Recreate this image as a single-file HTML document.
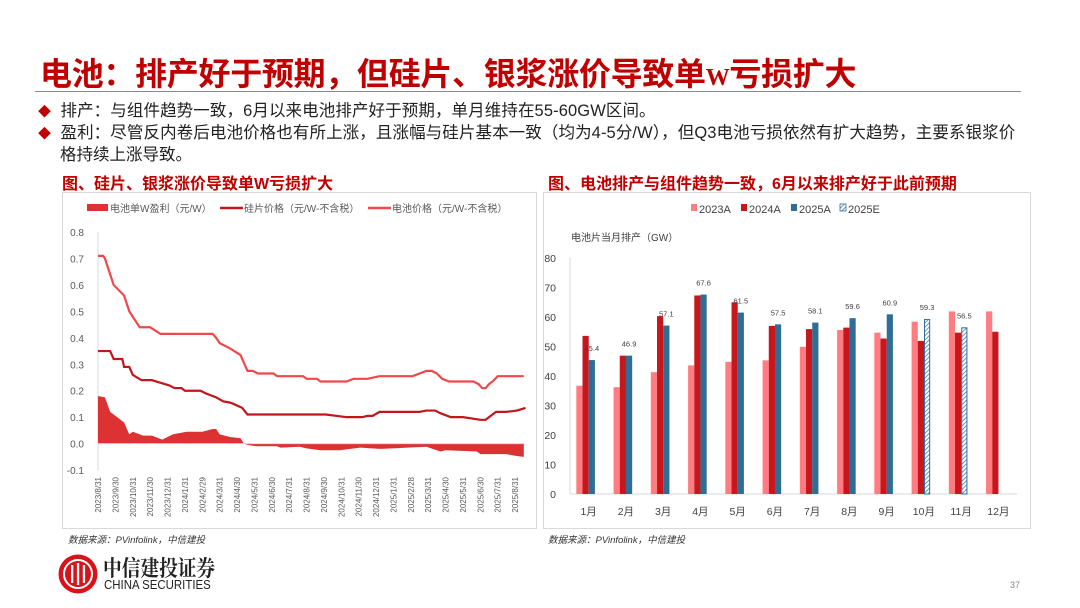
<!DOCTYPE html>
<html><head><meta charset="utf-8"><style>
body{margin:0;width:1080px;height:608px;background:#fff;position:relative;overflow:hidden;font-family:"Liberation Sans","Noto Sans CJK SC",sans-serif;}
.abs{position:absolute;white-space:nowrap;}
</style></head><body>
<div class="abs" style="left:40px;top:49px;font-size:32px;font-weight:bold;color:#c00000;letter-spacing:-0.3px;">电池：排产好于预期，但硅片、银浆涨价导致单<span style="font-family:'Liberation Serif',serif;font-size:24px;">W</span>亏损扩大</div>
<div class="abs" style="left:35px;top:91px;width:986px;height:1px;background:#8a8a8a;"></div>
<div class="abs" style="left:38px;top:97px;font-size:16.5px;color:#222;letter-spacing:0.1px;"><span style="color:#c00000;font-size:13px;">◆</span>&nbsp; 排产：与组件趋势一致，6月以来电池排产好于预期，单月维持在55-60GW区间。</div>
<div class="abs" style="left:38px;top:119px;font-size:16.5px;color:#222;letter-spacing:0.1px;"><span style="color:#c00000;font-size:13px;">◆</span>&nbsp; 盈利：尽管反内卷后电池价格也有所上涨，且涨幅与硅片基本一致（均为4-5分/W），但Q3电池亏损依然有扩大趋势，主要系银浆价</div>
<div class="abs" style="left:60px;top:141px;font-size:16.5px;color:#222;">格持续上涨导致。</div>
<div class="abs" style="left:62px;top:170px;font-size:16px;font-weight:bold;color:#c00000;">图、硅片、银浆涨价导致单W亏损扩大</div>
<div class="abs" style="left:548px;top:170px;font-size:16px;font-weight:bold;color:#c00000;">图、电池排产与组件趋势一致，6月以来排产好于此前预期</div>

<svg class="abs" style="left:0;top:0" width="1080" height="608">
<rect x="62.5" y="192.5" width="474" height="336" fill="none" stroke="#d9d9d9"/>
<rect x="543.5" y="192.5" width="487" height="336" fill="none" stroke="#d9d9d9"/>
<g id="L"></g><g id="R"></g>
</svg>

<div class="abs" style="left:68px;top:532px;font-size:9.5px;font-style:italic;color:#333;">数据来源：PVinfolink，中信建投</div>
<div class="abs" style="left:548px;top:532px;font-size:9.5px;font-style:italic;color:#333;">数据来源：PVinfolink，中信建投</div>
<svg class="abs" style="left:58px;top:554px" width="40" height="40">
<circle cx="20" cy="20" r="19.5" fill="#d7141a"/><circle cx="20" cy="20" r="14" fill="none" stroke="#fff" stroke-width="2"/>
<rect x="13" y="11" width="2.3" height="18" fill="#fff"/><rect x="18.9" y="9" width="2.3" height="22" fill="#fff"/><rect x="24.8" y="11" width="2.3" height="18" fill="#fff"/></svg>
<div class="abs" style="left:103px;top:552px;font-size:22px;font-weight:bold;color:#222;font-family:'Noto Serif CJK SC',serif;transform:scaleX(0.85);transform-origin:left top;">中信建投证券</div>
<div class="abs" style="left:104px;top:577px;font-size:13px;color:#222;transform:scaleX(0.88);transform-origin:left top;">CHINA SECURITIES</div>
<div class="abs" style="left:1010px;top:580px;font-size:9px;color:#888;">37</div>

<script>
// ---- Left chart data (x = months since 2023/8/31) ----
const cellT=[0,0.3,0.4,0.7,0.9,1.5,1.8,2.4,3.0,3.6,6.6,6.8,7.0,7.6,8.2,8.6,8.9,9.2,10.1,10.3,11.8,12.0,12.6,12.8,14.3,14.7,15.5,16.2,18.1,18.9,19.2,19.5,19.8,20.2,21.6,21.9,22.1,22.3,22.5,22.7,23.0,24.5];
const cellPrice=[0.71,0.71,0.70,0.64,0.60,0.56,0.50,0.44,0.44,0.415,0.415,0.40,0.38,0.36,0.335,0.275,0.275,0.265,0.265,0.255,0.255,0.245,0.245,0.235,0.235,0.245,0.245,0.255,0.255,0.275,0.275,0.265,0.245,0.235,0.235,0.225,0.21,0.21,0.225,0.235,0.255,0.255];
const waferT=[0,0.7,0.9,1.4,1.5,1.8,2.0,2.5,3.1,3.6,4.1,4.4,4.8,5.0,5.9,6.2,6.8,7.2,7.6,7.8,8.3,8.6,13.1,13.7,14.3,14.7,15.2,15.5,15.8,16.2,18.5,18.9,19.4,19.7,20.3,21.0,22.0,22.3,22.5,22.9,23.5,24.1,24.6];
const waferPrice=[0.35,0.35,0.32,0.32,0.29,0.29,0.26,0.24,0.24,0.23,0.22,0.21,0.21,0.20,0.20,0.19,0.175,0.16,0.155,0.15,0.135,0.11,0.11,0.105,0.10,0.10,0.10,0.105,0.105,0.12,0.12,0.125,0.125,0.115,0.10,0.10,0.09,0.09,0.10,0.12,0.12,0.125,0.135];
const profitT=[0,0.4,0.7,1.1,1.5,1.8,2.0,2.6,3.1,3.7,4.3,5.1,6.0,6.6,6.8,7.0,7.6,8.2,8.4,8.6,9.1,10.3,10.5,11.6,12.0,12.8,13.9,15.1,16.2,18.9,19.7,20.0,21.8,22.0,23.5,23.9,24.5];
const profit=[0.18,0.175,0.12,0.10,0.08,0.035,0.045,0.03,0.03,0.015,0.035,0.045,0.045,0.055,0.055,0.035,0.025,0.02,0.0,-0.005,-0.01,-0.01,-0.015,-0.012,-0.018,-0.025,-0.025,-0.015,-0.02,-0.012,-0.03,-0.025,-0.03,-0.04,-0.04,-0.045,-0.05];
const leftTicks=[0.8,0.7,0.6,0.5,0.4,0.3,0.2,0.1,0.0,-0.1];
const dateLabels=["2023/8/31","2023/9/30","2023/10/31","2023/11/30","2023/12/31","2024/1/31","2024/2/29","2024/3/31","2024/4/30","2024/5/31","2024/6/30","2024/7/31","2024/8/31","2024/9/30","2024/10/31","2024/11/30","2024/12/31","2025/1/31","2025/2/28","2025/3/31","2025/4/30","2025/5/31","2025/6/30","2025/7/31","2025/8/31"];
// ---- Right chart data ----
const months=["1月","2月","3月","4月","5月","6月","7月","8月","9月","10月","11月","12月"];
const s2023=[36.7,36.2,41.3,43.6,44.8,45.3,49.9,55.6,54.7,58.4,61.9,61.9];
const s2024=[53.6,46.9,60.3,67.3,65.0,57.0,55.9,56.4,52.7,51.9,54.7,55.0];
const s2025A=[45.4,46.9,57.1,67.6,61.5,57.5,58.1,59.6,60.9,null,null,null];
const s2025E=[null,null,null,null,null,null,null,null,null,59.3,56.5,null];
const rightTicks=[0,10,20,30,40,50,60,70,80];

const NS="http://www.w3.org/2000/svg";
function mk(p,tag,at,txt){const e=document.createElementNS(NS,tag);for(const k in at)e.setAttribute(k,at[k]);if(txt!=null)e.textContent=txt;p.appendChild(e);return e;}

// Left chart
const L=document.getElementById('L');
const lx=m=>98+m*17.38, ly=v=>443.6-v*264.4;
let ax=mk(L,'line',{x1:98,y1:ly(0.8),x2:98,y2:ly(-0.1),stroke:'#d9d9d9'});

leftTicks.forEach(v=>{
 let t=mk(L,'text',{x:84,y:ly(v)+4,'text-anchor':'end','font-size':10,fill:'#595959'},v.toFixed(1));
 
});
dateLabels.forEach((d,i)=>{
 let t=mk(L,'text',{transform:`translate(${lx(i)+3},477) rotate(-90)`,'text-anchor':'end','font-size':8,fill:'#595959'},d);
 
});
let ap='M'+lx(profitT[0])+','+ly(0);
profitT.forEach((t,i)=>ap+=' L'+lx(t)+','+ly(profit[i]));
ap+=' L'+lx(profitT[profitT.length-1])+','+ly(0)+'Z';
let area=mk(L,'path',{d:ap,fill:'#dc3232'});

let zl=mk(L,'line',{x1:98,y1:ly(0),x2:525,y2:ly(0),stroke:'#d9d9d9'});

function line(ts,vs,col,name){
 let p=mk(L,'polyline',{points:ts.map((t,i)=>lx(t)+','+ly(vs[i])).join(' '),fill:'none',stroke:col,'stroke-width':2.2});
 
}
line(waferT,waferPrice,'#c0161c','wafer-price-line');
line(cellT,cellPrice,'#f0484a','cell-price-line');
// Left legend
let lg=mk(L,'g',{});
mk(lg,'rect',{x:87,y:204,width:21,height:7,fill:'#dc3232'});
mk(lg,'text',{x:110,y:212,'font-size':10,fill:'#595959'},'电池单W盈利（元/W）');
mk(lg,'line',{x1:220,y1:208,x2:243,y2:208,stroke:'#c0161c','stroke-width':2.5});
mk(lg,'text',{x:244,y:212,'font-size':10,fill:'#595959'},'硅片价格（元/W-不含税）');
mk(lg,'line',{x1:368,y1:208,x2:391,y2:208,stroke:'#f0484a','stroke-width':2.5});
mk(lg,'text',{x:392,y:212,'font-size':10,fill:'#595959'},'电池价格（元/W-不含税）');

// Right chart
const R=document.getElementById('R');
const defs=mk(R,'defs',{});
const pat=mk(defs,'pattern',{id:'hatch',width:3,height:3,patternUnits:'userSpaceOnUse',patternTransform:'rotate(45)'});
mk(pat,'rect',{width:3,height:3,fill:'#fff'});mk(pat,'line',{x1:0,y1:0,x2:0,y2:3,stroke:'#2e6e96','stroke-width':1.4});
const gw=37.25, rx0=570, ry=v=>494-v*2.95, bw=6.2;
rightTicks.forEach(v=>{
 let t=mk(R,'text',{x:556,y:ry(v)+4,'text-anchor':'end','font-size':10.5,fill:'#404040'},v);
 
});
let ya=mk(R,'line',{x1:570,y1:ry(80),x2:570,y2:494,stroke:'#d9d9d9'});

let xa=mk(R,'line',{x1:570,y1:494,x2:1017,y2:494,stroke:'#d9d9d9'});

let yt=mk(R,'text',{x:571,y:241,'font-size':10,fill:'#404040'},'电池片当月排产（GW）');

months.forEach((m,i)=>{
 const c=rx0+gw*(i+0.5);
 let t=mk(R,'text',{x:c,y:515,'text-anchor':'middle','font-size':10.5,fill:'#404040'},m);
 
 const s=c-3-1.5*bw;
 let b1=mk(R,'rect',{x:s,y:ry(s2023[i]),width:bw,height:s2023[i]*2.95,fill:'#ff7c80'});
 
 let b2=mk(R,'rect',{x:s+bw,y:ry(s2024[i]),width:bw,height:s2024[i]*2.95,fill:'#c8161d'});
 
 let v3=s2025A[i]!=null?s2025A[i]:s2025E[i];
 if(v3!=null){
  const est=s2025A[i]==null;
  let b3=mk(R,'rect',{x:s+2*bw+(est?0.5:0),y:ry(v3)+(est?0.5:0),width:bw-(est?1:0),height:v3*2.95-(est?0.5:0),fill:est?'url(#hatch)':'#2e6e96',stroke:est?'#2e6e96':'none','stroke-width':1});
  
  let lb=mk(R,'text',{x:s+2.5*bw,y:ry(v3)-9,'text-anchor':'middle','font-size':7.5,fill:'#404040'},v3.toFixed(1));
  
 }
});
let rl=mk(R,'g',{});
[['#ff7c80','2023A',691],['#c8161d','2024A',741],['#2e6e96','2025A',791],['url(#hatch)','2025E',840]].forEach(([c,t,x])=>{
 mk(rl,'rect',{x:x,y:204,width:6,height:7,fill:c,stroke:c.startsWith('url')?'#2e6e96':'none','stroke-width':0.8});
 mk(rl,'text',{x:x+8,y:213,'font-size':11,fill:'#404040'},t);
});
</script>
</body></html>
